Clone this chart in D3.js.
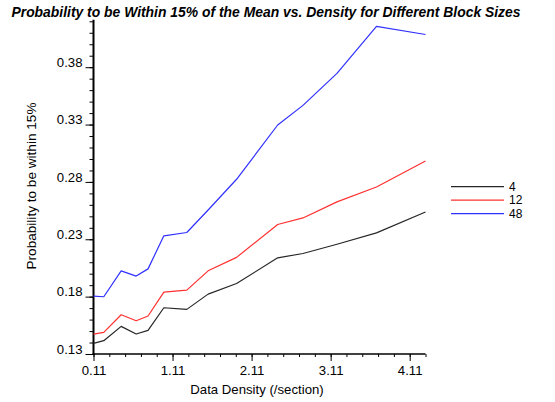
<!DOCTYPE html>
<html>
<head>
<meta charset="utf-8">
<script src="https://cdn.jsdelivr.net/npm/d3@7"></script>
<style>
  html, body { margin: 0; padding: 0; background: #fff; }
  svg { display: block; font-family: "Liberation Sans", Arial, Helvetica, sans-serif; }
</style>
</head>
<body>
<svg id="chart" width="555" height="402"></svg>
<script>
// Data density values (sections) at which each block size was sampled
const density = [0.11, 0.24, 0.46, 0.65, 0.80, 1.00, 1.29, 1.56, 1.92, 2.44, 2.76, 3.19, 3.69, 4.31];

// Probability of landing within 15% of the mean, one array per block size
const block4  = [0.1393, 0.1416, 0.1541, 0.1474, 0.1506, 0.1703, 0.1689, 0.1822, 0.1915, 0.2138, 0.2176, 0.2257, 0.2356, 0.2538];
const block12 = [0.1474, 0.1489, 0.1642, 0.1590, 0.1631, 0.1840, 0.1857, 0.2025, 0.2142, 0.2429, 0.2486, 0.2626, 0.2756, 0.2982];
const block48 = [0.1805, 0.1799, 0.2025, 0.1979, 0.2042, 0.2330, 0.2359, 0.2555, 0.2823, 0.3296, 0.3467, 0.3746, 0.4155, 0.4085];

const seriesNames = ["4", "12", "48"];
const seriesColors = ["#262626", "#ff3030", "#3030ff"];

// Axis ticks
const xMajor = [0.11, 1.11, 2.11, 3.11, 4.11];
const yMajor = [0.13, 0.18, 0.23, 0.28, 0.33, 0.38];

const titleText = "Probability to be Within 15% of the Mean vs. Density for Different Block Sizes";
const xTitle = "Data Density (/section)";
const yTitle = "Probability to be within 15%";

const svg = d3.select("#chart");

const x = d3.scaleLinear().domain([0.11, 4.31]).range([93.5, 425.5]);
const y = d3.scaleLinear().domain([0.13, 0.42]).range([354, 21.3]);

const xMinor = d3.range(0, 22).map(i => +(0.11 + i * 0.2).toFixed(2));
const yMinor = d3.range(0, 30).map(i => +(0.13 + i * 0.01).toFixed(2));

// Minor ticks
svg.append("g")
  .attr("transform", `translate(0,${y.range()[0]})`)
  .call(d3.axisBottom(x).tickValues(xMinor).tickSize(3).tickFormat(""))
  .call(g => g.select(".domain").remove())
  .call(g => g.selectAll("line").attr("stroke", "#000"));

svg.append("g")
  .attr("transform", `translate(${x.range()[0]},0)`)
  .call(d3.axisLeft(y).tickValues(yMinor).tickSize(4).tickFormat(""))
  .call(g => g.select(".domain").remove())
  .call(g => g.selectAll("line").attr("stroke", "#000"));

// Major ticks with labels
const xAxis = svg.append("g")
  .attr("transform", `translate(0,${y.range()[0]})`)
  .call(d3.axisBottom(x).tickValues(xMajor).tickSize(7).tickPadding(5).tickFormat(d3.format(".2f")));
xAxis.select(".domain").remove();
xAxis.selectAll("line").attr("stroke", "#000");
xAxis.selectAll("text").attr("font-size", 13.2).attr("fill", "#000")
  .attr("font-family", "Liberation Sans, Arial, sans-serif");

const yAxis = svg.append("g")
  .attr("transform", `translate(${x.range()[0]},0)`)
  .call(d3.axisLeft(y).tickValues(yMajor).tickSize(8).tickPadding(3).tickFormat(d3.format(".2f")));
yAxis.select(".domain").remove();
yAxis.selectAll("line").attr("stroke", "#000");
yAxis.selectAll("text").attr("font-size", 13.2).attr("fill", "#000").attr("dy", "-0.05em")
  .attr("font-family", "Liberation Sans, Arial, sans-serif");

// Axis lines
svg.append("line")
  .attr("x1", x.range()[0]).attr("x2", x.range()[0])
  .attr("y1", y.range()[1] - 1.5).attr("y2", y.range()[0] + 1)
  .attr("stroke", "#000").attr("stroke-width", 2);
svg.append("line")
  .attr("x1", x.range()[0] - 1).attr("x2", x.range()[1])
  .attr("y1", y.range()[0]).attr("y2", y.range()[0])
  .attr("stroke", "#000").attr("stroke-width", 1.5);

// Series lines
const line = d3.line().x((d, i) => x(density[i])).y(d => y(d));
[block4, block12, block48].forEach((vals, k) => {
  svg.append("path")
    .datum(vals)
    .attr("d", line)
    .attr("fill", "none")
    .attr("stroke", seriesColors[k])
    .attr("stroke-width", 1.2)
    .attr("stroke-linejoin", "round");
});

// Legend
const legend = svg.append("g");
seriesNames.forEach((name, k) => {
  const ly = 186.7 + k * 13.5;
  legend.append("line")
    .attr("x1", 451).attr("x2", 504).attr("y1", ly).attr("y2", ly)
    .attr("stroke", seriesColors[k]).attr("stroke-width", 1.2);
  legend.append("text")
    .attr("x", 509).attr("y", ly + 4.2)
    .attr("font-size", 12).attr("fill", "#000")
    .text(name);
});

// Title
svg.append("text")
  .attr("x", 266).attr("y", 17)
  .attr("text-anchor", "middle")
  .attr("font-size", 13.9).attr("font-weight", "bold").attr("font-style", "italic")
  .attr("fill", "#000")
  .text(titleText);

// Axis titles
svg.append("text")
  .attr("x", 257).attr("y", 394)
  .attr("text-anchor", "middle")
  .attr("font-size", 13.2).attr("fill", "#000")
  .text(xTitle);

svg.append("text")
  .attr("transform", "translate(35.5,186) rotate(-90)")
  .attr("text-anchor", "middle")
  .attr("font-size", 13.6).attr("fill", "#000")
  .text(yTitle);
</script>
</body>
</html>
